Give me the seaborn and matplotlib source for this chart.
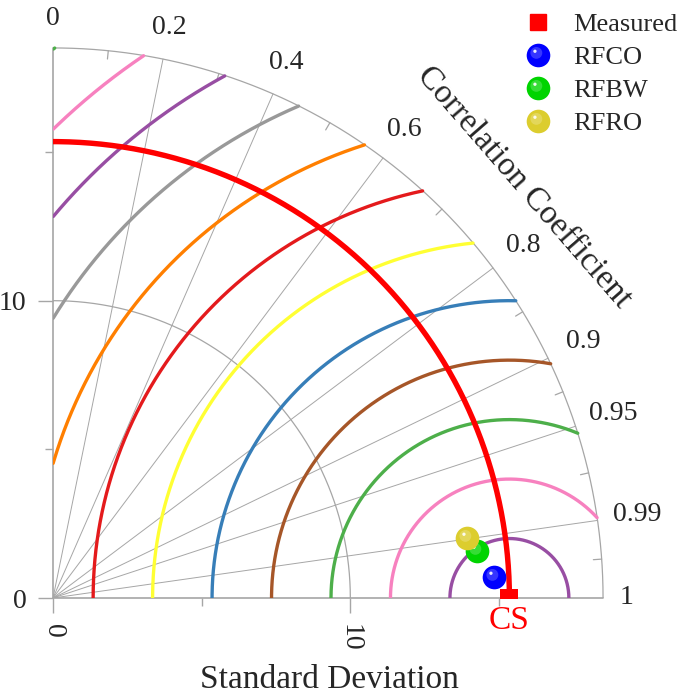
import numpy as np
import pandas as pd
import seaborn as sns
import matplotlib.pyplot as plt
from matplotlib.lines import Line2D
from matplotlib.path import Path
from matplotlib.colors import to_rgb

sns.set_theme(style="white")
plt.rcParams["font.family"] = ["Liberation Serif", "DejaVu Serif"]

# data
ref_name = "CS"
ref_sd = 15.35
models = ["RFCO", "RFBW", "RFRO"]
model_sd = [14.84, 14.34, 14.06]
model_corr = [0.9989, 0.9939, 0.9896]
model_colors = ["#0000ff", "#00d400", "#dccd2e"]
rms_levels = [2, 4, 6, 8, 10, 12, 14, 16, 18, 20, 22, 24]
rms_colors = ["#984ea3", "#f781bf", "#4daf4a", "#a65628", "#377eb8", "#ffff33",
              "#e41a1c", "#ff7f00", "#999999", "#984ea3", "#f781bf", "#4daf4a"]
corr_labels = [0, 0.2, 0.4, 0.6, 0.8, 0.9, 0.95, 0.99, 1]
sd_max = 18.5
sd_major = [0, 10]
sd_minor = [5, 15]

GRID = "#a6a6a6"
FS = 20

fig = plt.figure(figsize=(6.85, 6.94), dpi=100)
ax = fig.add_axes([53 / 685, 96 / 694, 556 / 685, 556 / 694])
ax.set_xlim(0, 18.7)
ax.set_ylim(0, 18.7)
for s in ax.spines.values():
    s.set_visible(False)

# outer frame: axes lines, outer arc, arc at 10
t = np.linspace(0, np.pi / 2, 400)
ax.plot([0, sd_max], [0, 0], color=GRID, lw=1.2, clip_on=False, zorder=1)
ax.plot([0, 0], [0, sd_max], color=GRID, lw=1.2, clip_on=False, zorder=1)
ax.plot(sd_max * np.cos(t), sd_max * np.sin(t), color=GRID, lw=0.9, zorder=1)
ax.plot(10 * np.cos(t), 10 * np.sin(t), color=GRID, lw=0.9, zorder=1)

# correlation rays and labels
for c in corr_labels:
    th = np.arccos(c)
    if 0 < c < 1:
        ax.plot([0, sd_max * np.cos(th)], [0, sd_max * np.sin(th)],
                color=GRID, lw=0.7, zorder=1)
    lab = f"{c:g}"
    r = 19.3 + 0.2 * (1 - c) + (0.55 * c if len(lab) > 1 else 0)
    ax.text(r * np.cos(th), r * np.sin(th), lab, fontsize=FS,
            ha="center", va="center", clip_on=False)

# minor ticks on the outer arc, halfway (in angle) between labelled values
ang = np.arccos(corr_labels)
for a in (ang[:-1] + ang[1:]) / 2:
    ax.plot([sd_max * np.cos(a), (sd_max - 0.28) * np.cos(a)],
            [sd_max * np.sin(a), (sd_max - 0.28) * np.sin(a)],
            color=GRID, lw=0.9, zorder=1)

# centred RMS difference contours
tt = np.linspace(0, np.pi, 3000)
parts = []
for lev in rms_levels:
    x = ref_sd + lev * np.cos(tt)
    y = lev * np.sin(tt)
    keep = (x >= 0) & (np.hypot(x, y) <= sd_max)
    parts.append(pd.DataFrame({"x": x[keep], "y": y[keep], "rms": lev}))
contours = pd.concat(parts, ignore_index=True)
sns.lineplot(data=contours, x="x", y="y", hue="rms",
             palette=dict(zip(rms_levels, rms_colors)),
             sort=False, estimator=None, lw=2.4, legend=False, ax=ax, zorder=2)

# reference standard deviation arc
arc = pd.DataFrame({"x": ref_sd * np.cos(t), "y": ref_sd * np.sin(t)})
sns.lineplot(data=arc, x="x", y="y", sort=False, estimator=None,
             color="#ff0000", lw=3.9, ax=ax, zorder=3)


# sphere-like markers: base disc + lighter patch + white glint
def spot(cx, cy, r):
    circ = Path.circle((cx, cy), r)
    dummy = Path([(1, 1), (-1, -1)], [Path.MOVETO, Path.MOVETO])
    return Path.make_compound_path(circ, dummy)


mid_mark = spot(-0.18, 0.22, 0.5)
glint_mark = spot(-0.3, 0.36, 0.14)


def lighter(col, f):
    rgb = np.array(to_rgb(col))
    return tuple(rgb + (1 - rgb) * f)


xs = [s * c for s, c in zip(model_sd, model_corr)]
ys = [s * np.sqrt(1 - c ** 2) for s, c in zip(model_sd, model_corr)]
pts = pd.DataFrame({"x": xs, "y": ys, "model": models})
msize = 290
for i, m in enumerate(models):
    sub = pts[pts.model == m]
    sns.scatterplot(data=sub, x="x", y="y", color=model_colors[i], s=msize,
                    marker="o", linewidth=0, ax=ax, zorder=5 + i, legend=False)
    ax.scatter(sub.x, sub.y, marker=mid_mark, s=msize, linewidths=0,
               color=lighter(model_colors[i], 0.3), alpha=0.7, zorder=5 + i)
    ax.scatter(sub.x, sub.y, marker=glint_mark, s=msize, linewidths=0,
               color="white", alpha=0.9, zorder=5 + i)

ax.scatter([ref_sd], [0], marker="s", s=150, color="#ff0000", zorder=8,
           linewidths=0, clip_on=True)
ax.text(ref_sd, -0.25, ref_name, color="#ff0000", fontsize=24,
        ha="center", va="top")

# axis ticks
ax.set_xticks(sd_major)
ax.set_xticks(sd_minor, minor=True)
ax.set_yticks(sd_major)
ax.set_yticks(sd_minor, minor=True)
ax.set_xticklabels([str(v) for v in sd_major], rotation=270, fontsize=FS)
ax.set_yticklabels([str(v) for v in sd_major], fontsize=FS)
ax.tick_params(which="major", length=11, width=1, color=GRID, pad=8,
               bottom=True, left=True)
ax.tick_params(which="minor", length=6, width=1, color=GRID,
               bottom=True, left=True)
ax.set_xlabel("")
ax.set_ylabel("")

fig.text(329 / 685, 1 - 680 / 694, "Standard Deviation", fontsize=24,
         ha="center", va="center")
cth = np.deg2rad(41.1)
ax.text(21.0 * np.cos(cth), 21.0 * np.sin(cth), "Correlation Coefficient",
        fontsize=24, rotation=41.1 - 90, rotation_mode="anchor",
        ha="center", va="center", clip_on=False)

# legend
handles = [Line2D([], [], ls="", marker="s", color="#ff0000", markersize=11)]
for col in model_colors:
    handles.append((
        Line2D([], [], ls="", marker="o", color=col, markersize=17, mew=0),
        Line2D([], [], ls="", marker=mid_mark, color=lighter(col, 0.3),
               alpha=0.7, markersize=17, mew=0),
        Line2D([], [], ls="", marker=glint_mark, color="white", alpha=0.9,
               markersize=17, mew=0),
    ))
fig.legend(handles, ["Measured"] + models, loc="upper right",
           bbox_to_anchor=(1.012, 1.005), frameon=False, fontsize=19,
           handletextpad=0.75, labelspacing=0.36, borderpad=0.1,
           handlelength=1.2)

fig.savefig("out.png", dpi=100)
